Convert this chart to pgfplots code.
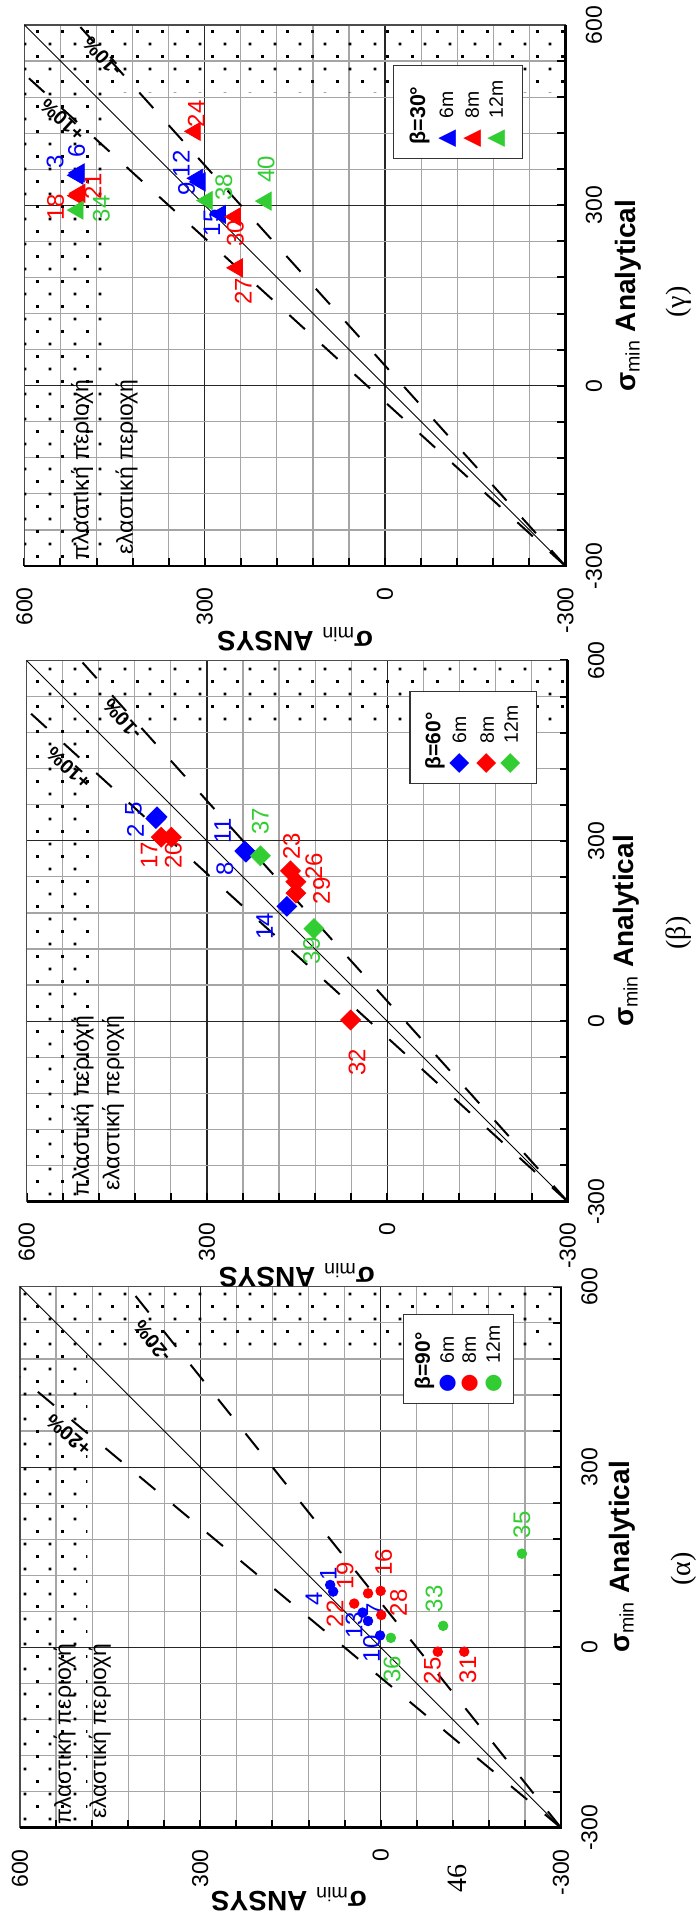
\documentclass[border=0pt]{standalone}
\usepackage{pgfplots}
\pgfplotsset{compat=1.18}
\usepackage{fontspec}
\setmainfont{Liberation Sans}
\newfontfamily\dejavu{DejaVu Sans}
\newfontfamily\serifg{Liberation Serif}
\usetikzlibrary{patterns}
\definecolor{cblue}{RGB}{0,0,255}
\definecolor{cred}{RGB}{255,0,0}
\definecolor{cgreen}{RGB}{50,205,50}
\definecolor{gridgray}{RGB}{165,165,165}

\pgfdeclarepatternformonly{pdots}{\pgfqpoint{-1pt}{-1pt}}{\pgfqpoint{13.5pt}{13.5pt}}{\pgfqpoint{12.5pt}{12.5pt}}{%
  \pgfpathrectangle{\pgfqpoint{-0.65pt}{-0.65pt}}{\pgfqpoint{1.3pt}{1.3pt}}%
  \pgfpathrectangle{\pgfqpoint{5.6pt}{5.6pt}}{\pgfqpoint{1.3pt}{1.3pt}}%
  \pgfusepath{fill}}

\newcommand\lfont{\fontsize{12}{14}\selectfont}
\newcommand\lbl[4]{\node[rotate=90, text=#1, font=\lfont, inner sep=0pt] at (axis cs:#2,#3) {#4};}
\newcommand\pct[4]{\node[rotate=#1, font=\bfseries\fontsize{10}{11}\selectfont, inner sep=0pt] at (axis cs:#2,#3) {#4};}
\newcommand\greek[3]{\node[rotate=90, anchor=east, font=\fontsize{11.5}{13}\selectfont, inner sep=0pt] at (axis cs:#1,#2) {#3};}

\pgfplotsset{
  panel/.style={
    scale only axis, width=270.5pt, height=270.5pt,
    xmin=-300, xmax=600, ymin=-300, ymax=600, x dir=reverse,
    xtick={-300,0,300,600}, ytick={-300,0,300,600},
    xticklabels={-300,0,300,600}, yticklabels={-300,0,300,600},
    minor xtick={-240,-180,-120,-60,60,120,180,240,360,420,480,540},
    minor ytick={-240,-180,-120,-60,60,120,180,240,360,420,480,540},
    grid=both,
    major grid style={black!85, line width=0.6pt},
    minor grid style={gridgray, line width=0.6pt},
    axis line style={black!70, line width=0.6pt},
    tick align=inside, xtick pos=left, ytick pos=right,
    xticklabel pos=left, yticklabel pos=right,
    major tick length=4pt, minor tick length=4pt,
    tick style={black, line width=1pt},
    ticklabel style={font=\fontsize{11.5}{13}\selectfont, inner sep=0pt},
    xticklabel style={rotate=90, anchor=east},
    yticklabel style={rotate=90, anchor=north},
    xticklabel shift=10.5pt, yticklabel shift=10pt,
    clip=false,
  },
  mk6/.style={only marks, color=cblue, fill=cblue},
  mk8/.style={only marks, color=cred, fill=cred},
  mk12/.style={only marks, color=cgreen, fill=cgreen},
  tri/.style={mark=triangle*, mark size=5.2pt, mark options={rotate=90}},
  dia/.style={mark=square*, mark size=3.5pt, mark options={rotate=45}},
  circ/.style={mark=*, mark size=2.4pt},
  dline/.style={black, line width=1pt, dash pattern=on 10.5pt off 11.5pt},
  diag/.style={black, line width=0.45pt},
}

\begin{document}
\begin{tikzpicture}
\useasboundingbox (0,0) rectangle (348pt,959.5pt);

%% ---------------- (gamma) beta = 30 ----------------
\begin{axis}[panel, at={(12.2pt,676.5pt)}, anchor=south west]
 \fill[pattern=pdots] (axis cs:470,-300) rectangle (axis cs:600,600);
 \fill[pattern=pdots] (axis cs:-300,488) rectangle (axis cs:470,600);
 \addplot[dline] coordinates {(-300,-300) (600,518.18)};
 \addplot[dline] coordinates {(-300,-300) (510,600)};
 \addplot[diag] coordinates {(-300,-300) (600,600)};
 \addplot[mk6,tri] coordinates {(511,350) (509,354) (308,339) (312,345) (274,285)};
 \addplot[mk8,tri] coordinates {(511,316) (508,320) (316,423) (249,281) (246,196)};
 \addplot[mk12,tri] coordinates {(511,292) (296,308) (198,307)};
 \lbl{cblue}{549}{373}{3}
 \lbl{cblue}{513}{390}{6}
 \lbl{cblue}{339}{369}{12}
 \lbl{cblue}{330}{327}{9}
 \lbl{cblue}{288}{271}{15}
 \lbl{cred}{548}{297}{18}
 \lbl{cred}{486}{332}{21}
 \lbl{cred}{314}{452}{24}
 \lbl{cred}{249}{253}{30}
 \lbl{cred}{236}{157}{27}
 \lbl{cgreen}{472}{294}{34}
 \lbl{cgreen}{268}{330}{38}
 \lbl{cgreen}{198}{360}{40}
 \pct{137.7}{537}{442}{+10\%}
 \pct{132}{471}{547}{-10\%}
 \greek{504}{11}{πλαστική περιοχή}
 \greek{430}{11}{ελαστική περιοχή}
 \draw[black, line width=1.3pt] (axis cs:600,-300) -- (axis cs:-300,-300) -- (axis cs:-300,600);
 \node[rotate=90, draw=black!80, line width=0.6pt, fill=white, anchor=north west, inner sep=0pt,
       minimum width=46.5pt, minimum height=64.5pt, text width=46.5pt, align=left]
   at (axis cs:-12.5,377)
  {\fontsize{9.7}{12.8}\selectfont
   \hspace*{7pt}{\bfseries\fontsize{10.7}{12}\selectfont β=30°}\\[1.2pt]
   \hspace*{5pt}\makebox[10pt]{\dejavu\fontsize{11.5}{12}\selectfont\color{cblue}▲}\hspace{5pt}6m\\
   \hspace*{5pt}\makebox[10pt]{\dejavu\fontsize{11.5}{12}\selectfont\color{cred}▲}\hspace{5pt}8m\\
   \hspace*{5pt}\makebox[10pt]{\dejavu\fontsize{11.5}{12}\selectfont\color{cgreen}▲}\hspace{5pt}12m};
\end{axis}

%% ---------------- (beta) beta = 60 ----------------
\begin{axis}[panel, at={(13.3pt,358.75pt)}, anchor=south west]
 \fill[pattern=pdots] (axis cs:490,-300) rectangle (axis cs:600,600);
 \fill[pattern=pdots] (axis cs:-300,492) rectangle (axis cs:490,600);
 \addplot[dline] coordinates {(-300,-300) (600,518.18)};
 \addplot[dline] coordinates {(-300,-300) (510,600)};
 \addplot[diag] coordinates {(-300,-300) (600,600)};
 \addplot[mk6,dia] coordinates {(385,337) (383,340) (235,281) (237,283) (167,191)};
 \addplot[mk8,dia] coordinates {(376,306) (359,306) (161,250) (152,232) (152,213) (61,2)};
 \addplot[mk12,dia] coordinates {(211,275) (122,154)};
 \lbl{cblue}{422}{354}{5}
 \lbl{cblue}{419}{317}{2}
 \lbl{cblue}{274}{317}{11}
 \lbl{cblue}{270}{254}{8}
 \lbl{cblue}{204}{158}{14}
 \lbl{cred}{396}{276}{17}
 \lbl{cred}{356}{276}{20}
 \lbl{cred}{159}{291}{23}
 \lbl{cred}{122}{258}{26}
 \lbl{cred}{109}{217}{29}
 \lbl{cred}{50}{-68}{32}
 \lbl{cgreen}{211}{332}{37}
 \lbl{cgreen}{126}{117}{39}
 \pct{137.7}{530}{421}{+10\%}
 \pct{132}{441}{502}{-10\%}
 \greek{507}{10}{πλαστική περιοχή}
 \greek{456}{10}{ελαστική περιοχή}
 \draw[black, line width=1.3pt] (axis cs:600,-300) -- (axis cs:-300,-300) -- (axis cs:-300,600);
 \node[rotate=90, draw=black!80, line width=0.6pt, fill=white, anchor=north west, inner sep=0pt,
       minimum width=46pt, minimum height=63pt, text width=46pt, align=left]
   at (axis cs:-37,395)
  {\fontsize{9.7}{13.9}\selectfont
   \hspace*{7pt}{\bfseries\fontsize{10.5}{12}\selectfont β=60°}\\[-1pt]
   \hspace*{5pt}\makebox[10pt]{\dejavu\fontsize{13}{12}\selectfont\color{cblue}◆}\hspace{5pt}6m\\
   \hspace*{5pt}\makebox[10pt]{\dejavu\fontsize{13}{12}\selectfont\color{cred}◆}\hspace{5pt}8m\\
   \hspace*{5pt}\makebox[10pt]{\dejavu\fontsize{13}{12}\selectfont\color{cgreen}◆}\hspace{5pt}12m};
\end{axis}

%% ---------------- (alpha) beta = 90 ----------------
\begin{axis}[panel, at={(10pt,45.6pt)}, anchor=south west]
 \fill[pattern=pdots] (axis cs:488,-300) rectangle (axis cs:600,600);
 \fill[pattern=pdots] (axis cs:-300,495) rectangle (axis cs:488,600);
 \addplot[dline] coordinates {(-300,-300) (600,450)};
 \addplot[dline] coordinates {(-300,-300) (420,600)};
 \addplot[diag] coordinates {(-300,-300) (600,600)};
 \addplot[mk6,circ] coordinates {(84,104) (79,93) (30,58) (21,44) (1,20)};
 \addplot[mk8,circ] coordinates {(0,94) (21,90) (44,73) (-1,54) (-95,-7) (-139,-7)};
 \addplot[mk12,circ] coordinates {(-104,36) (-235,156) (-17,16)};
 \lbl{cblue}{87}{122}{1}
 \lbl{cblue}{111}{81}{4}
 \lbl{cblue}{10}{63}{7}
 \lbl{cblue}{44}{37}{13}
 \lbl{cblue}{15}{-2}{10}
 \lbl{cred}{-5}{142}{16}
 \lbl{cred}{59}{119}{19}
 \lbl{cred}{76}{56}{22}
 \lbl{cred}{-30}{74}{28}
 \lbl{cred}{-86}{-39}{25}
 \lbl{cred}{-145}{-37}{31}
 \lbl{cgreen}{-89}{81}{33}
 \lbl{cgreen}{-235}{204}{35}
 \lbl{cgreen}{-19}{-36}{36}
 \pct{140.2}{519}{353}{+20\%}
 \pct{128.7}{380}{509}{-20\%}
 \greek{526}{7}{πλαστική περιοχή}
 \greek{467}{7}{ελαστική περιοχή}
 \draw[black, line width=1.3pt] (axis cs:600,-300) -- (axis cs:-300,-300) -- (axis cs:-300,600);
 \node[rotate=90, draw=black!80, line width=0.6pt, fill=white, anchor=north west, inner sep=0pt,
       minimum width=44.5pt, minimum height=55pt, text width=44.5pt, align=left]
   at (axis cs:-37,405)
  {\fontsize{9.7}{11}\selectfont
   \hspace*{7pt}{\bfseries\fontsize{10.5}{12}\selectfont β=90°}\\[1pt]
   \hspace*{5pt}\makebox[10pt]{\dejavu\fontsize{10.5}{11}\selectfont\color{cblue}●}\hspace{5pt}6m\\
   \hspace*{5pt}\makebox[10pt]{\dejavu\fontsize{10.5}{11}\selectfont\color{cred}●}\hspace{5pt}8m\\
   \hspace*{5pt}\makebox[10pt]{\dejavu\fontsize{10.5}{11}\selectfont\color{cgreen}●}\hspace{5pt}12m};
\end{axis}

%% ---------------- axis titles (page coordinates) ----------------
\begin{scope}[every node/.style={font=\bfseries\fontsize{14}{16}\selectfont, inner sep=0pt}]
 \node[rotate=180] at (147.6pt,640pt) {σ\textsubscript{\mdseries min} ANSYS};
 \node[rotate=90] at (314pt,811.6pt) {σ\textsubscript{\mdseries min} Analytical};
 \node[rotate=180] at (148.5pt,322pt) {σ\textsubscript{\mdseries min} ANSYS};
 \node[rotate=90] at (313pt,494pt) {σ\textsubscript{\mdseries min} Analytical};
 \node[rotate=180] at (144.5pt,10pt) {σ\textsubscript{\mdseries min} ANSYS};
 \node[rotate=90] at (311pt,181pt) {σ\textsubscript{\mdseries min} Analytical};
\end{scope}
\begin{scope}[every node/.style={font=\serifg\fontsize{14}{16}\selectfont, inner sep=0pt, rotate=90}]
 \node at (339.5pt,808.5pt) {(γ)};
 \node at (339.5pt,493pt) {(β)};
 \node at (342pt,175pt) {(α)};
 \node at (228.5pt,20.5pt) {46};
\end{scope}
\end{tikzpicture}
\end{document}
